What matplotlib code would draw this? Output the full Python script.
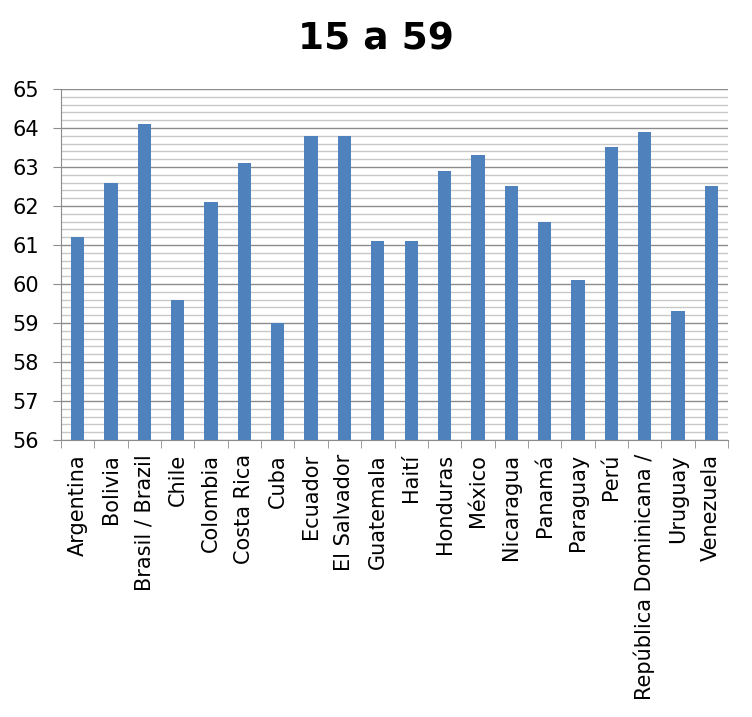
import matplotlib.pyplot as plt
from matplotlib.ticker import MultipleLocator, FixedLocator
import numpy as np

countries = ['Argentina', 'Bolivia', 'Brasil / Brazil', 'Chile', 'Colombia',
             'Costa Rica', 'Cuba', 'Ecuador', 'El Salvador', 'Guatemala',
             'Haití', 'Honduras', 'México', 'Nicaragua', 'Panamá', 'Paraguay',
             'Perú', 'República Dominicana /', 'Uruguay', 'Venezuela']
values = [61.2, 62.6, 64.1, 59.6, 62.1, 63.1, 59.0, 63.8, 63.8, 61.1,
          61.1, 62.9, 63.3, 62.5, 61.6, 60.1, 63.5, 63.9, 59.3, 62.5]

fig = plt.figure(figsize=(7.52, 7.17), dpi=100)
ax = fig.add_axes([61 / 752, 1 - 440 / 717, (728 - 61) / 752, (440 - 89) / 717])

x = np.arange(len(countries))
ax.bar(x, np.array(values) - 56, bottom=56, width=0.4, color='#4f81bd', zorder=3)

ax.set_xlim(-0.5, len(countries) - 0.5)
ax.set_ylim(56, 65)
ax.yaxis.set_major_locator(MultipleLocator(1))
ax.yaxis.set_minor_locator(MultipleLocator(0.2))
ax.grid(axis='y', which='major', color='#8c8c8c', linewidth=1, zorder=0)
ax.grid(axis='y', which='minor', color='#c8c8c8', linewidth=1, zorder=0)
ax.tick_params(axis='y', which='major', length=6, color='#8c8c8c', labelsize=15, pad=10)
ax.tick_params(axis='y', which='minor', length=0)

ax.set_xticks(x)
ax.set_xticklabels(countries, rotation=90, fontsize=15)
ax.xaxis.set_minor_locator(FixedLocator(np.arange(-0.5, len(countries), 1)))
ax.tick_params(axis='x', which='major', length=0, pad=10)
ax.tick_params(axis='x', which='minor', length=6, color='#8c8c8c')

for s in ['top', 'right']:
    ax.spines[s].set_visible(False)
for s in ['left', 'bottom']:
    ax.spines[s].set_color('#8c8c8c')

fig.text(0.5, 1 - 40 / 717, '15 a 59', ha='center', va='center',
         fontsize=27, fontweight='heavy')

plt.savefig('out.png', dpi=100)
